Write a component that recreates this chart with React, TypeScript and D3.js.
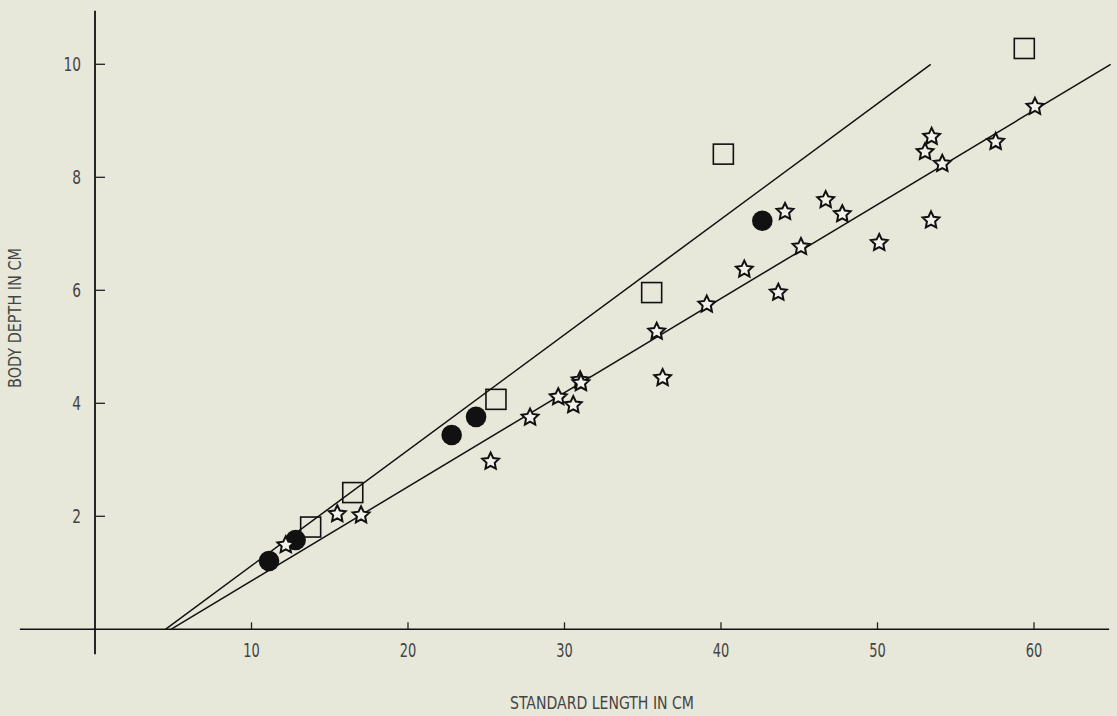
import React from "react";
import * as d3 from "d3";

// ---- data (cm) ----
const circleX = [11.12, 12.82, 22.79, 24.35, 42.64];
const circleY = [1.21, 1.58, 3.44, 3.76, 7.23];

const squareX = [13.78, 16.47, 25.62, 35.57, 40.15, 59.38];
const squareY = [1.81, 2.42, 4.07, 5.96, 8.41, 10.28];

const starX = [12.19, 15.48, 17.0, 25.28, 27.8, 29.6, 30.56, 31.0, 31.05, 35.89, 36.27, 39.09, 41.49, 43.66, 44.09, 45.11, 46.69, 47.75, 50.11, 53.04, 53.46, 53.42, 54.14, 57.55, 60.06];
const starY = [1.49, 2.04, 2.02, 2.97, 3.75, 4.11, 3.97, 4.41, 4.36, 5.27, 4.45, 5.75, 6.37, 5.96, 7.39, 6.77, 7.6, 7.35, 6.84, 8.45, 8.72, 7.24, 8.24, 8.63, 9.25];

// regression lines: [x0, y0, x1, y1]
const upperLine = [4.5, 0, 53.4, 10.0];
const lowerLine = [4.85, 0, 64.9, 10.0];

const xTicks = [10, 20, 30, 40, 50, 60];
const yTicks = [2, 4, 6, 8, 10];

const xTitle = "STANDARD LENGTH IN CM";
const yTitle = "BODY DEPTH IN CM";

const W = 1117;
const H = 716;
const BG = "#e7e8da";
const FONT = "'Liberation Sans Narrow', 'DejaVu Sans Condensed', 'Roboto', sans-serif";

function starPath(cx: number, cy: number, R: number, r: number) {
  const pts: string[] = [];
  for (let i = 0; i < 10; i++) {
    const a = -Math.PI / 2 + (i * Math.PI) / 5;
    const rad = i % 2 === 0 ? R : r;
    pts.push(`${(cx + rad * Math.cos(a)).toFixed(2)},${(cy + rad * Math.sin(a)).toFixed(2)}`);
  }
  return "M" + pts.join("L") + "Z";
}

export default function App() {
  const x = d3.scaleLinear().domain([0, 60]).range([95, 1034]);
  const y = d3.scaleLinear().domain([0, 10]).range([629.3, 64.3]);

  const line = d3
    .line<[number, number]>()
    .x((d) => x(d[0]))
    .y((d) => y(d[1]));

  const lines = [upperLine, lowerLine].map((l) =>
    line([
      [l[0], l[1]],
      [l[2], l[3]],
    ])
  );

  return (
    <svg
      width={W}
      height={H}
      style={{ position: "absolute", left: 0, top: 0, background: BG }}
    >
      <rect x={0} y={0} width={W} height={H} fill={BG} />
      {/* axes */}
      <line x1={x(-4.8)} x2={x(64.8)} y1={y(0)} y2={y(0)} stroke="#111" strokeWidth={1.6} />
      <line x1={x(0)} x2={x(0)} y1={y(10.95)} y2={y(-0.44)} stroke="#111" strokeWidth={1.8} />
      {xTicks.map((t) => (
        <g key={"xt" + t}>
          <line x1={x(t)} x2={x(t)} y1={y(0)} y2={y(0) - 7} stroke="#222" strokeWidth={1.3} />
          <text
            transform={`translate(${x(t)},${y(0) + 28}) scale(0.85,1.15)`}
            textAnchor="middle"
            fontFamily={FONT}
            fontSize={17}
            fill="#444"
          >
            {t}
          </text>
        </g>
      ))}
      {yTicks.map((t) => (
        <g key={"yt" + t}>
          <line x1={x(0)} x2={x(0) + 10} y1={y(t)} y2={y(t)} stroke="#222" strokeWidth={1.3} />
          <text
            transform={`translate(${x(0) - 14},${y(t) + 7}) scale(0.9,1.15)`}
            textAnchor="end"
            fontFamily={FONT}
            fontSize={17}
            fill="#444"
          >
            {t}
          </text>
        </g>
      ))}
      <text
        transform={`translate(602,709) scale(1,1.15)`}
        textAnchor="middle"
        fontFamily={FONT}
        fontSize={15}
        fill="#444"
        textLength={184}
        lengthAdjust="spacingAndGlyphs"
      >
        {xTitle}
      </text>
      <text
        transform={`translate(21,${318}) rotate(-90) scale(1,1.15)`}
        textAnchor="middle"
        fontFamily={FONT}
        fontSize={15}
        fill="#444"
        textLength={140}
        lengthAdjust="spacingAndGlyphs"
      >
        {yTitle}
      </text>

      {/* regression lines */}
      {lines.map((d, i) => (
        <path key={"l" + i} d={d || ""} fill="none" stroke="#111" strokeWidth={1.5} />
      ))}

      {/* squares */}
      {squareX.map((v, i) => (
        <rect
          key={"s" + i}
          x={x(v) - 10}
          y={y(squareY[i]) - 10}
          width={20}
          height={20}
          fill="none"
          stroke="#111"
          strokeWidth={1.6}
        />
      ))}
      {/* circles */}
      {circleX.map((v, i) => (
        <circle key={"c" + i} cx={x(v)} cy={y(circleY[i])} r={10.3} fill="#111" />
      ))}
      {/* stars */}
      {starX.map((v, i) => (
        <path
          key={"st" + i}
          d={starPath(x(v), y(starY[i]), 8.8, 4.3)}
          fill="#f2f2ea"
          stroke="#111"
          strokeWidth={2}
          strokeLinejoin="miter"
        />
      ))}
    </svg>
  );
}
